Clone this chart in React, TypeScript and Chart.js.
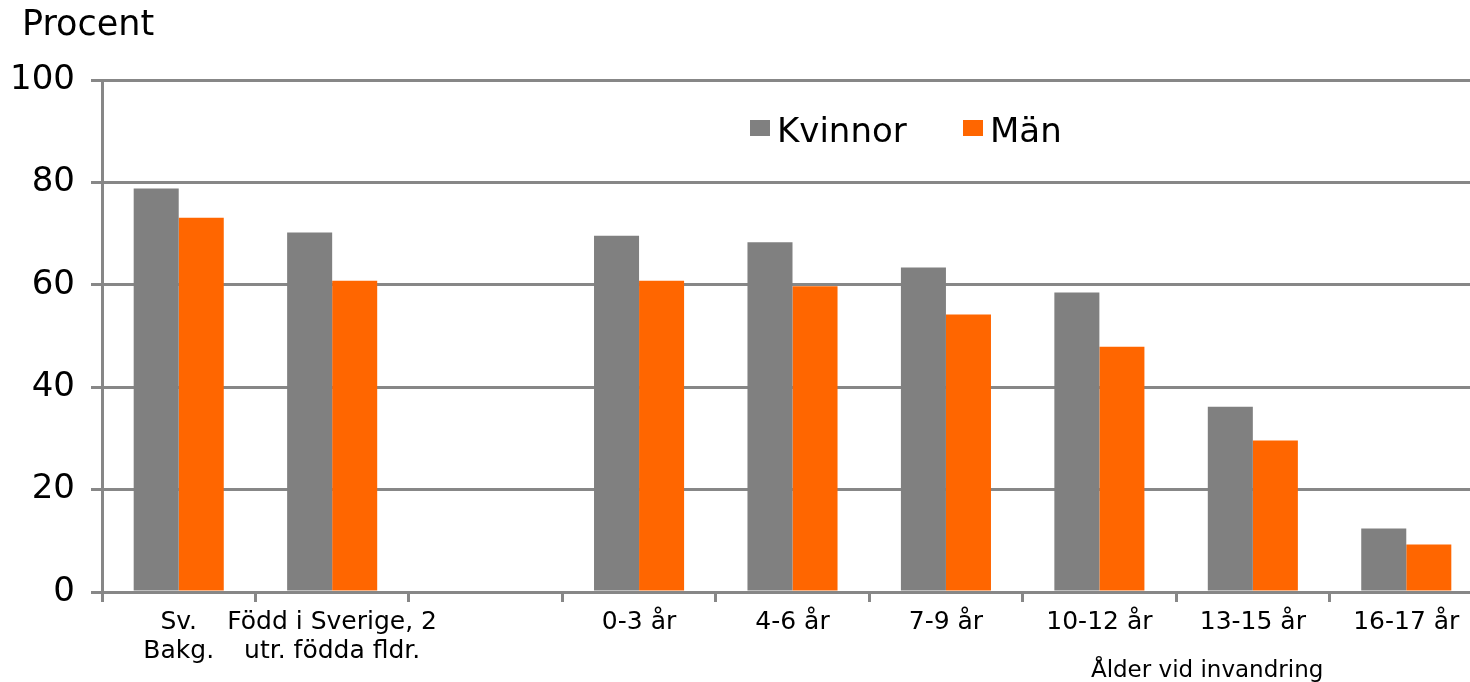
import React, { useEffect, useRef } from 'react';
import { Chart, registerables } from 'chart.js';

Chart.register(...registerables);

const categories: (string | string[])[] = [
  ['Sv.', 'Bakg.'],
  ['Född i Sverige, 2', 'utr. födda fldr.'],
  '',
  '0-3 år',
  '4-6 år',
  '7-9 år',
  '10-12 år',
  '13-15 år',
  '16-17 år',
];
const seriesNames = ['Kvinnor', 'Män'];
const kvinnor = [78.8, 70.2, null, 69.6, 68.3, 63.4, 58.5, 36.2, 12.4];
const man = [73.1, 60.8, null, 60.8, 59.7, 54.2, 47.9, 29.6, 9.3];
const yTickValues = [0, 20, 40, 60, 80, 100];
const yTitle = 'Procent';
const xTitle = 'Ålder vid invandring';

const GRID = '#878787';
const FONT = '"DejaVu Sans", Verdana, sans-serif';

const textPlugin = {
  id: 'textPlugin',
  afterDraw(chart: any) {
    const ctx = chart.ctx;
    ctx.save();
    ctx.fillStyle = '#000';
    ctx.textBaseline = 'alphabetic';
    ctx.textAlign = 'left';
    ctx.font = `35px ${FONT}`;
    ctx.fillText(yTitle, 22, 35);

    const xs = chart.scales.x;
    const cx = (xs.getPixelForValue(6) + xs.getPixelForValue(7)) / 2 + 31;
    ctx.font = `23px ${FONT}`;
    ctx.textAlign = 'center';
    ctx.fillText(xTitle, cx, 677);

    ctx.font = `34px ${FONT}`;
    ctx.textAlign = 'left';
    const pos = [
      { bx: 750, tx: 777 },
      { bx: 963, tx: 990 },
    ];
    chart.data.datasets.forEach((ds: any, i: number) => {
      ctx.fillStyle = ds.backgroundColor;
      ctx.fillRect(pos[i].bx, 120, 20, 16);
      ctx.fillStyle = '#000';
      ctx.fillText(ds.label, pos[i].tx, 142);
    });
    ctx.restore();
  },
};

export default function App() {
  const ref = useRef<HTMLCanvasElement | null>(null);

  useEffect(() => {
    if (!ref.current) return;
    Chart.defaults.font.family = FONT;
    const chart = new Chart(ref.current, {
      type: 'bar',
      data: {
        labels: categories,
        datasets: [
          {
            label: seriesNames[0],
            data: kvinnor,
            backgroundColor: '#808080',
            borderWidth: 0,
            categoryPercentage: 0.587,
            barPercentage: 1.0,
          },
          {
            label: seriesNames[1],
            data: man,
            backgroundColor: '#FF6600',
            borderWidth: 0,
            categoryPercentage: 0.587,
            barPercentage: 1.0,
          },
        ],
      },
      options: {
        responsive: false,
        animation: false,
        devicePixelRatio: 1,
        layout: { padding: { top: 80, right: 7, left: 0, bottom: 0 } },
        plugins: {
          legend: { display: false },
          tooltip: { enabled: false },
          title: { display: false },
        },
        scales: {
          x: {
            grid: {
              drawOnChartArea: false,
              color: GRID,
              lineWidth: 3,
              tickLength: 10,
              offset: true,
            },
            border: { color: GRID, width: 3 },
            ticks: {
              color: '#000',
              font: { size: 25, family: FONT, lineHeight: 1.16 },
              maxRotation: 0,
              minRotation: 0,
              autoSkip: false,
              padding: 6,
            },
            afterFit: (scale: any) => {
              scale.height = 90;
            },
          },
          y: {
            min: yTickValues[0],
            max: yTickValues[yTickValues.length - 1],
            z: 1,
            grid: { color: GRID, lineWidth: 3, tickLength: 11 },
            border: { color: GRID, width: 3 },
            ticks: {
              stepSize: yTickValues[1] - yTickValues[0],
              color: '#000',
              font: { size: 34, family: FONT },
              padding: 16,
            },
            afterFit: (scale: any) => {
              scale.width = 102;
            },
          },
        },
      },
      plugins: [textPlugin],
    });
    return () => chart.destroy();
  }, []);

  return (
    <div
      style={{
        position: 'fixed',
        left: 0,
        top: 0,
        width: 1470,
        height: 682,
        overflow: 'hidden',
        background: '#fff',
      }}
    >
      <canvas ref={ref} width={1490} height={682} style={{ display: 'block', width: 1490, height: 682 }} />
    </div>
  );
}
